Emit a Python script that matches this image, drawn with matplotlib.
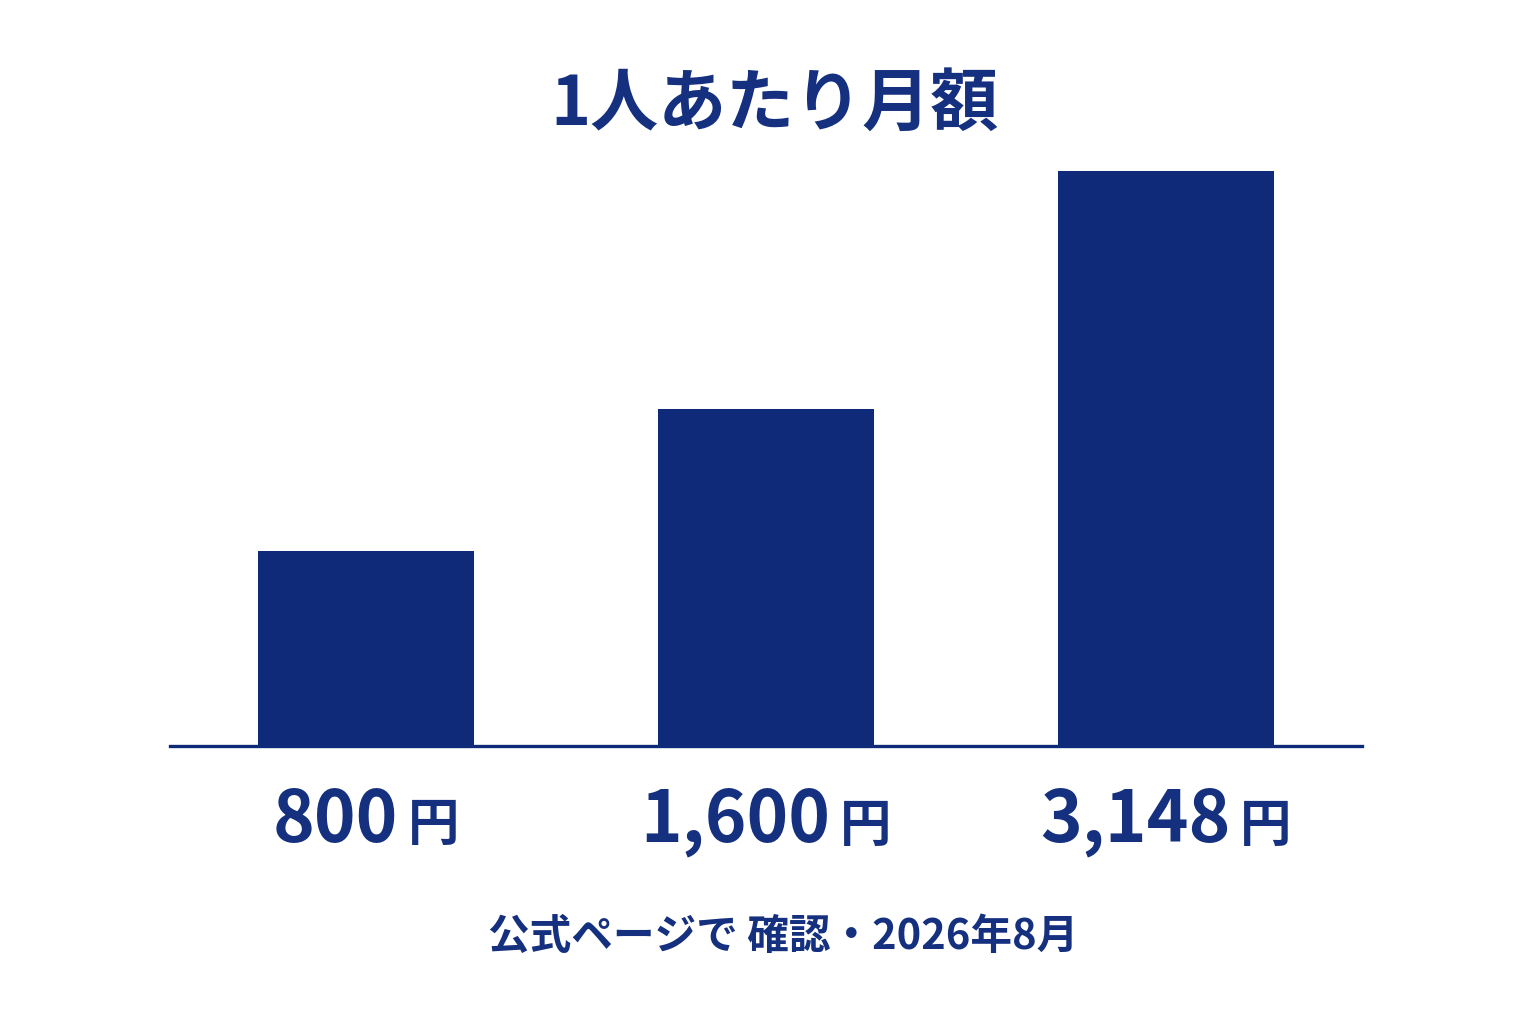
import numpy as np
import matplotlib
matplotlib.use("Agg")
import matplotlib.pyplot as plt

plt.rcParams['font.family'] = ['Noto Sans CJK JP', 'DejaVu Sans']

# data
plans = ["A", "B", "C"]
monthly_yen = [800, 1600, 3148]
value_labels = ["800", "1,600", "3,148"]
title = "1人あたり月額"
footer = "公式ページで 確認・2026年8月"

NAVY = "#0f2a78"
TEXT = "#14307f"
P = 0.79  # power scale so bar heights follow the original artwork


def fwd(v):
    v = np.asarray(v, dtype=float)
    return np.sign(v) * np.abs(v) ** P


def inv(v):
    v = np.asarray(v, dtype=float)
    return np.sign(v) * np.abs(v) ** (1 / P)


fig = plt.figure(figsize=(15.36, 10.24), dpi=100)
fig.patch.set_facecolor("white")

# axes: x from 170px to 1362px, baseline at 746px, top at 150px
ax = fig.add_axes([170 / 1536, 1 - 746 / 1024, (1362 - 170) / 1536, (746 - 150) / 1024])
ax.set_yscale("function", functions=(fwd, inv))

x = np.arange(len(plans))
ax.bar(x, monthly_yen, width=0.54, color=NAVY, zorder=2)

ax.set_xlim(-0.49, 2.49)
top = (max(monthly_yen) ** P * (746 - 150) / (746 - 171)) ** (1 / P)
ax.set_ylim(0, top)

for s in ["top", "right", "left"]:
    ax.spines[s].set_visible(False)
ax.spines["bottom"].set_color(NAVY)
ax.spines["bottom"].set_linewidth(2.4)
ax.set_xticks([])
ax.set_yticks([])
ax.yaxis.set_minor_locator(matplotlib.ticker.NullLocator())

# value labels under each bar: number + smaller 円
for xi, lab in zip(x, value_labels):
    t = ax.annotate(lab, xy=(xi, 0), xycoords=("data", "axes fraction"),
                    xytext=(-22, -69), textcoords="offset points",
                    ha="center", va="baseline", fontsize=51, fontweight="bold",
                    color=TEXT)
    ax.annotate("円", xy=(1, 0), xycoords=t, xytext=(7, 12),
                textcoords="offset points", ha="left", va="baseline",
                fontsize=37, fontweight="bold", color=TEXT)

fig.text(0.5045, 1 - 105 / 1024, title, ha="center", va="center",
         fontsize=49, fontweight="bold", color=TEXT)
fig.text(783 / 1536, 1 - 937 / 1024, footer, ha="center", va="center",
         fontsize=30, fontweight="bold", color=TEXT)

fig.savefig("out.png", dpi=100, facecolor="white")
